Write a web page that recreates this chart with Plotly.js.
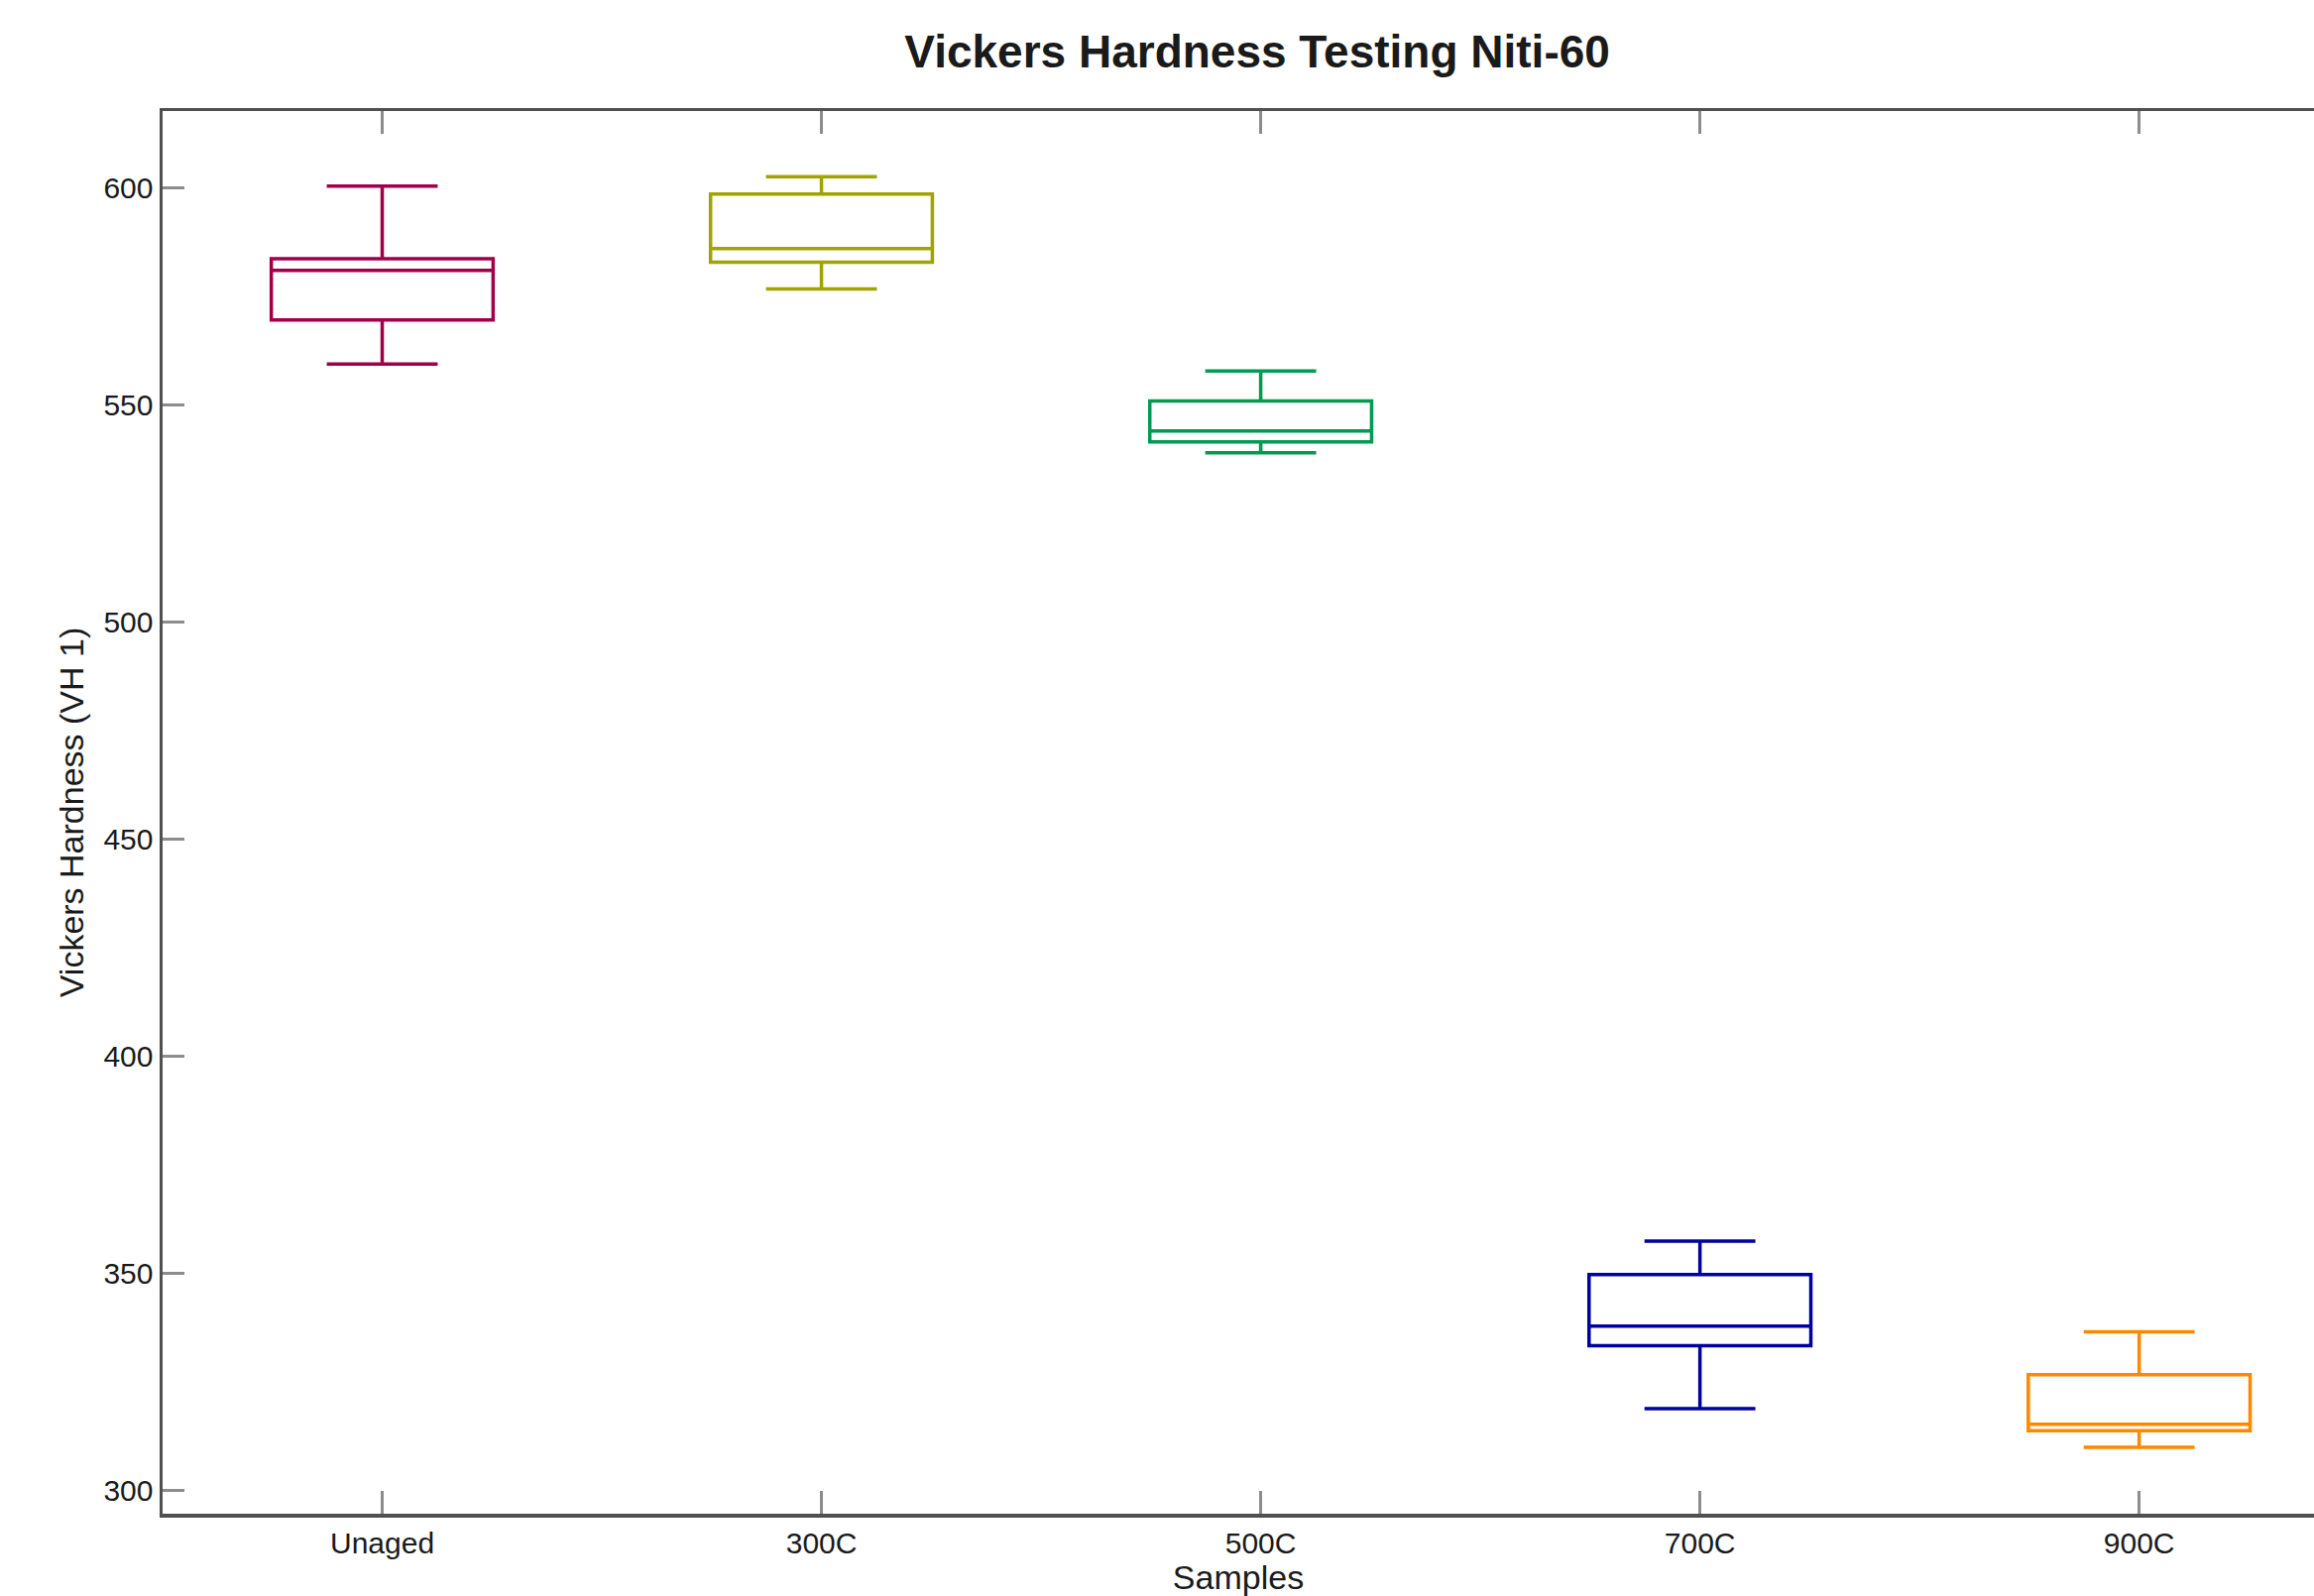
<!DOCTYPE html>
<html>
<head>
<meta charset="utf-8">
<script src="https://cdn.plot.ly/plotly-3.0.1.min.js"></script>
<style>
  html, body { margin: 0; padding: 0; background: #ffffff; overflow: hidden; }
  #chart { width: 2334px; height: 1610px; }
</style>
</head>
<body>
<div id="chart"></div>
<script>
// Sample categories
const categories = ['Unaged', '300C', '500C', '700C', '900C'];
// Box statistics (Vickers hardness, VH 1)
const lowerWhisker = [559.4, 576.7, 539.0, 318.8, 309.9];
const q1Values     = [569.6, 582.9, 541.5, 333.3, 313.7];
const medianValues = [581.0, 586.0, 544.0, 337.8, 315.2];
const q3Values     = [583.7, 598.6, 550.9, 349.7, 326.6];
const upperWhisker = [600.4, 602.6, 557.8, 357.4, 336.5];
// Line colour per sample
const boxColors = ['#a0004a', '#a0a400', '#009a52', '#0000a0', '#ff8800'];
// Y-axis ticks
const yTickValues = [300, 350, 400, 450, 500, 550, 600];

const traces = categories.map((cat, i) => ({
  type: 'box',
  name: cat,
  x: [cat],
  q1: [q1Values[i]],
  median: [medianValues[i]],
  q3: [q3Values[i]],
  lowerfence: [lowerWhisker[i]],
  upperfence: [upperWhisker[i]],
  boxpoints: false,
  width: 0.505,
  whiskerwidth: 0.5,
  line: { color: boxColors[i], width: 3.5 },
  fillcolor: 'rgba(255,255,255,0)',
  showlegend: false,
  hoverinfo: 'y'
}));

const tickFont = { family: 'Liberation Sans, Arial, sans-serif', size: 30, color: '#1a1a1a' };
const axisTitleFont = { family: 'Liberation Sans, Arial, sans-serif', size: 34, color: '#1a1a1a' };

const layout = {
  width: 2334,
  height: 1610,
  paper_bgcolor: '#ffffff',
  plot_bgcolor: '#ffffff',
  margin: { l: 164, r: 0, t: 112, b: 83, pad: 0 },
  boxmode: 'overlay',
  title: {
    text: 'Vickers Hardness Testing Niti-60',
    font: { family: 'Liberation Sans, Arial, sans-serif', size: 46, color: '#1a1a1a', weight: 700 },
    xref: 'paper', x: 0.5088, xanchor: 'center',
    yref: 'container', y: 0.9677, yanchor: 'middle'
  },
  xaxis: {
    type: 'category',
    categoryorder: 'array',
    categoryarray: categories,
    range: [-0.5, 4.398],
    showline: true, linecolor: '#505050', linewidth: 3.5,
    mirror: 'ticks',
    ticks: 'inside', ticklen: 23, tickwidth: 3, tickcolor: '#8c8c8c',
    showgrid: false, zeroline: false,
    tickfont: tickFont,
    automargin: false,
    title: { text: 'Samples', font: axisTitleFont, standoff: 22 }
  },
  yaxis: {
    range: [294.6, 617.7],
    tickvals: yTickValues,
    showline: true, linecolor: '#505050', linewidth: 3.5,
    mirror: false,
    ticks: 'inside', ticklen: 22, tickwidth: 3, tickcolor: '#8c8c8c',
    showgrid: false, zeroline: false,
    tickfont: tickFont,
    automargin: false,
    title: { text: 'Vickers Hardness (VH 1)', font: axisTitleFont, standoff: 10 }
  }
};

Plotly.newPlot('chart', traces, layout, { displayModeBar: false, staticPlot: true });
</script>
</body>
</html>
